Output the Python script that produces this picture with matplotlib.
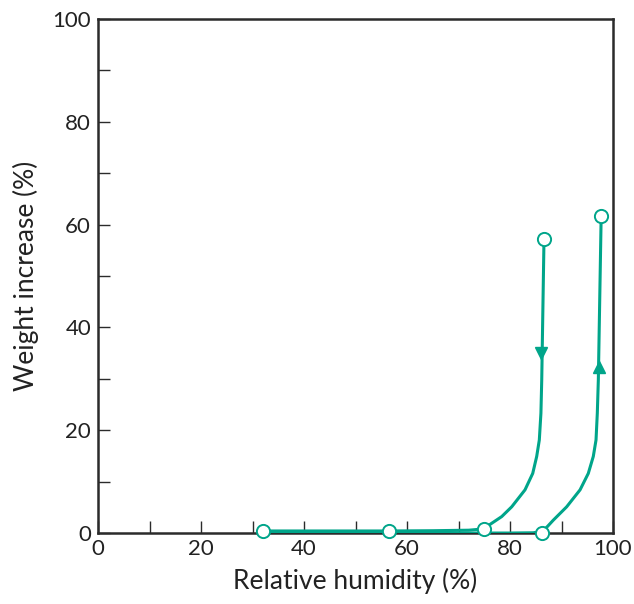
import numpy as np
import matplotlib.pyplot as plt

plt.rcParams["font.family"] = ["Lato", "DejaVu Sans"]

# measured points (open circles)
pts_x = [32.0, 56.5, 75.0, 86.6, 86.2, 97.7]
pts_y = [0.4, 0.4, 0.8, 57.2, 0.0, 61.7]

# desorption branch (top to bottom, then along the floor)
des_x = [86.6, 86.16, 86.0, 85.69, 85.18, 84.41, 82.91, 80.33, 78.39, 76.45,
         74.82, 72.0, 65.0, 56.5, 32.0]
des_y = [57.2, 29.8, 23.3, 18.1, 14.9, 11.6, 8.4, 5.1, 3.2, 1.9,
         0.8, 0.55, 0.45, 0.4, 0.4]

# sorption branch (floor, then up)
sor_x = [32.0, 56.5, 80.0, 84.5, 86.2, 87.2, 88.4, 91.0, 93.6, 95.2,
         96.17, 96.7, 96.95, 97.15, 97.7]
sor_y = [0.0, 0.0, 0.0, 0.05, 0.3, 1.2, 2.5, 5.1, 8.4, 11.6,
         14.9, 18.1, 23.3, 29.8, 61.7]

# direction arrows
arr_down = (86.0, 35.0)
arr_up = (97.3, 32.3)

teal = "#00a58a"
dark = "#2b2b2b"

fig = plt.figure(figsize=(6.34, 6.04), dpi=100)
ax = fig.add_axes([0.1546, 0.1175, 0.8123, 0.851])

ax.plot(des_x, des_y, color=teal, lw=2.2, solid_joinstyle="round", zorder=3)
ax.plot(sor_x, sor_y, color=teal, lw=2.2, solid_joinstyle="round", zorder=3)
ax.plot(pts_x, pts_y, "o", ms=9.5, mfc="white", mec=teal, mew=1.4, zorder=5,
        clip_on=False)
ax.plot(*arr_down, "v", ms=8, color=teal, zorder=4)
ax.plot(*arr_up, "^", ms=8, color=teal, zorder=4)

ax.set_xlim(0, 100)
ax.set_ylim(0, 100)
ax.set_xticks(np.arange(0, 101, 20))
ax.set_yticks(np.arange(0, 101, 20))
ax.set_xticks(np.arange(10, 100, 20), minor=True)
ax.set_yticks(np.arange(10, 100, 20), minor=True)
ax.tick_params(which="both", direction="in", length=8.5, width=1.0, color=dark,
               labelsize=16, labelcolor="#222222")
ax.tick_params(axis="x", pad=4)
ax.tick_params(axis="y", pad=5)

for s in ax.spines.values():
    s.set_linewidth(1.8)
    s.set_color(dark)

ax.set_xlabel("Relative humidity (%)", fontsize=19, color="#222222", labelpad=7)
ax.set_ylabel("Weight increase (%)", fontsize=19, color="#222222", labelpad=10)

fig.savefig("out.png", dpi=100)
